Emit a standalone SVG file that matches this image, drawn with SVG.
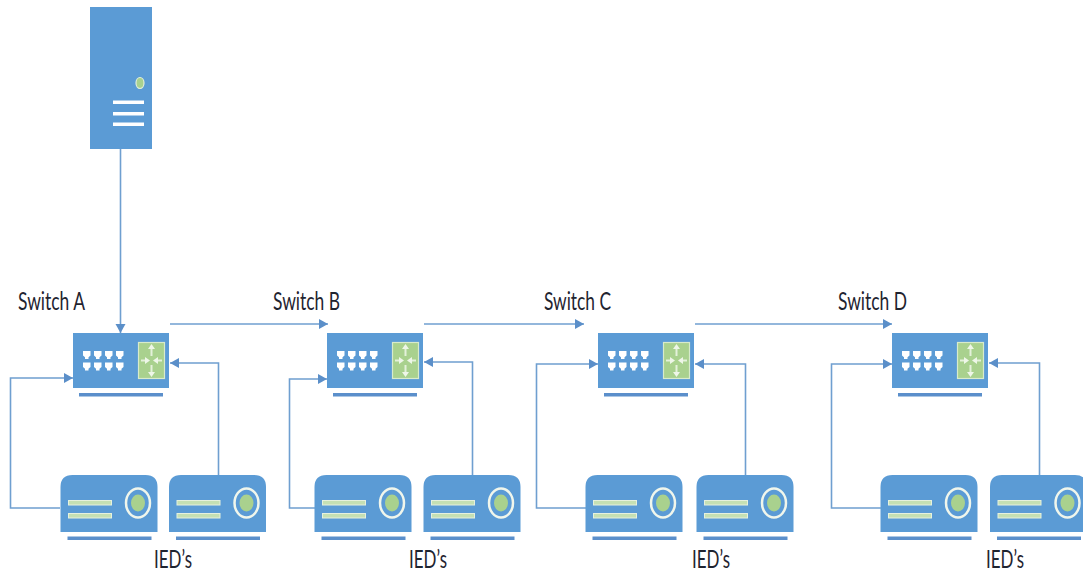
<svg xmlns="http://www.w3.org/2000/svg" width="1083" height="571" viewBox="0 0 1083 571">
<style>
.b{fill:#5b9bd5}.g{fill:#a9d18e}.w{fill:#fff}.lg{fill:#c5e0b4;stroke:#e6f1de;stroke-width:1}.base{fill:#5b8fcb}
.c{fill:none;stroke:#6f9fd0;stroke-width:1.600}
.t{font-family:Lato,"Liberation Sans",sans-serif;font-size:25px;fill:#1f2430}
</style>
<defs>
<marker id="a" markerUnits="userSpaceOnUse" markerWidth="12" markerHeight="12" refX="10" refY="6" orient="auto"><path d="M1 1L10 6L1 11Z" fill="#5b8fc9"/></marker>
<path id="port" d="M0 0h7.500v4.500l-2 1.800v1.700h-3.500v-1.700l-2-1.800z" class="w"/>
<g id="sw">
<rect x="0" y="0" width="96" height="55" class="b"/>
<use href="#port" x="10" y="18"/><use href="#port" x="21" y="18"/><use href="#port" x="32" y="18"/><use href="#port" x="43" y="18"/>
<use href="#port" x="10" y="29.500"/><use href="#port" x="21" y="29.500"/><use href="#port" x="32" y="29.500"/><use href="#port" x="43" y="29.500"/>
<rect x="65.500" y="9.500" width="26" height="36" fill="#a9d18e" stroke="#d8ebcb" stroke-width="1.200"/>
<path d="M78.500 14v9M78.500 32v9M68 27.500h6M83 27.500h6" stroke="#e4f1da" stroke-width="2" fill="none"/>
<path d="M78.500 11l-3.500 5h7zM78.500 44l-3.500-5h7zM77 27.500l-5-3.500v7zM80 27.500l5-3.500v7z" fill="#eef6e8"/>
<rect x="6" y="60" width="84" height="3.500" class="base"/>
</g>
<g id="ied">
<path d="M0 57V12Q0 0 12 0H85Q97 0 97 12V57Z" class="b"/>
<rect x="8" y="25.500" width="43" height="4.500" class="lg"/>
<rect x="8" y="38.500" width="43" height="4.500" class="lg"/>
<ellipse cx="77.500" cy="28" rx="12" ry="14.500" fill="#5b9bd5" stroke="#f0f6ec" stroke-width="2.500"/>
<ellipse cx="77.500" cy="28" rx="7" ry="8.500" class="g"/>
<rect x="7" y="61.500" width="84" height="3.500" class="base"/>
</g>
</defs>

<g id="connectors">
<path class="c" d="M120.500 149V333" marker-end="url(#a)"/>
<path class="c" d="M170 324H328" marker-end="url(#a)"/>
<path class="c" d="M424 324H584" marker-end="url(#a)"/>
<path class="c" d="M695 324H892" marker-end="url(#a)"/>
<path class="c" d="M60 508H10.500V378H73" marker-end="url(#a)"/>
<path class="c" d="M218.500 475V363H170" marker-end="url(#a)"/>
<path class="c" d="M315 508H289.500V379H327" marker-end="url(#a)"/>
<path class="c" d="M472.500 475V362H424" marker-end="url(#a)"/>
<path class="c" d="M586 508H536.500V364H598" marker-end="url(#a)"/>
<path class="c" d="M745.500 475V364H695" marker-end="url(#a)"/>
<path class="c" d="M881 508H831.500V364H892" marker-end="url(#a)"/>
<path class="c" d="M1039.500 475V363H989" marker-end="url(#a)"/>
</g>

<g id="server">
<rect x="90" y="7" width="62" height="142" class="b"/>
<ellipse cx="140" cy="83" rx="4" ry="5.500" fill="#a9d18e" stroke="#e3efd9" stroke-width="1.200"/>
<rect x="113" y="100.500" width="31" height="3.500" class="w"/>
<rect x="113" y="112" width="31" height="3.500" class="w"/>
<rect x="113" y="122.500" width="31" height="3.500" class="w"/>
</g>

<g id="switch-a"><use href="#sw" x="73" y="333"/><text class="t" x="18" y="310" textLength="67" lengthAdjust="spacingAndGlyphs">Switch A</text></g>
<g id="switch-b"><use href="#sw" x="327" y="333"/><text class="t" x="273" y="310" textLength="67" lengthAdjust="spacingAndGlyphs">Switch B</text></g>
<g id="switch-c"><use href="#sw" x="598" y="333"/><text class="t" x="544" y="310" textLength="67" lengthAdjust="spacingAndGlyphs">Switch C</text></g>
<g id="switch-d"><use href="#sw" x="892" y="333"/><text class="t" x="838" y="310" textLength="69" lengthAdjust="spacingAndGlyphs">Switch D</text></g>

<g id="ied-a1"><use href="#ied" x="60.500" y="475"/></g>
<g id="ied-a2"><use href="#ied" x="169" y="475"/></g>
<g id="ied-b1"><use href="#ied" x="314.500" y="475"/></g>
<g id="ied-b2"><use href="#ied" x="423.500" y="475"/></g>
<g id="ied-c1"><use href="#ied" x="585.500" y="475"/></g>
<g id="ied-c2"><use href="#ied" x="696.500" y="475"/></g>
<g id="ied-d1"><use href="#ied" x="880.500" y="475"/></g>
<g id="ied-d2"><use href="#ied" x="990" y="475"/></g>
<text class="t" x="154" y="568" textLength="38" lengthAdjust="spacingAndGlyphs">IED’s</text>
<text class="t" x="409" y="568" textLength="38" lengthAdjust="spacingAndGlyphs">IED’s</text>
<text class="t" x="692" y="568" textLength="38" lengthAdjust="spacingAndGlyphs">IED’s</text>
<text class="t" x="986" y="568" textLength="38" lengthAdjust="spacingAndGlyphs">IED’s</text>
</svg>
